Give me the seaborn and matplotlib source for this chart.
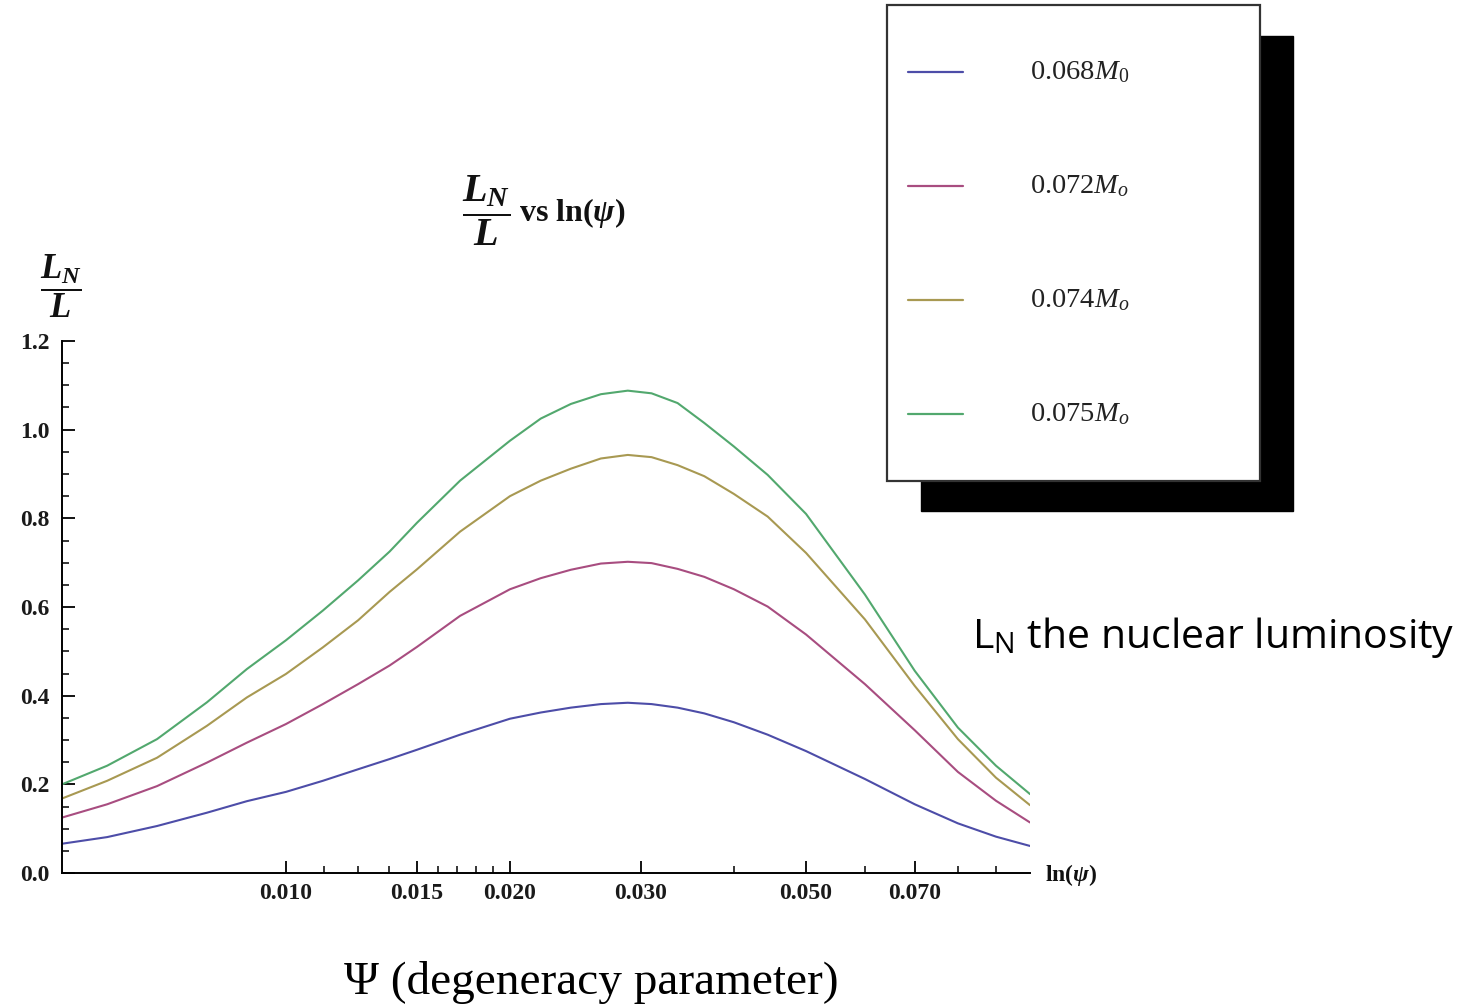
import numpy as np
import pandas as pd
import matplotlib
matplotlib.use("Agg")
import matplotlib.pyplot as plt
import seaborn as sns
from matplotlib.patches import Rectangle
from matplotlib.lines import Line2D
from matplotlib.ticker import FixedLocator, FixedFormatter, NullFormatter, MultipleLocator

# ---------------- data ----------------
psi = [0.005, 0.00575, 0.00671, 0.00783, 0.00886, 0.010, 0.01121, 0.0125,
       0.01378, 0.015, 0.01714, 0.020, 0.022, 0.02415, 0.0265, 0.0288,
       0.031, 0.0336, 0.0365, 0.040, 0.0444, 0.050, 0.060, 0.070, 0.080,
       0.090, 0.100]
lum_068 = [0.066, 0.081, 0.106, 0.136, 0.162, 0.183, 0.208, 0.234,
           0.257, 0.278, 0.312, 0.348, 0.362, 0.373, 0.381, 0.384,
           0.381, 0.373, 0.360, 0.340, 0.312, 0.275, 0.212, 0.155, 0.112,
           0.082, 0.061]
lum_072 = [0.125, 0.155, 0.196, 0.249, 0.294, 0.336, 0.381, 0.426,
           0.468, 0.510, 0.580, 0.640, 0.665, 0.684, 0.698, 0.702,
           0.699, 0.686, 0.668, 0.640, 0.601, 0.538, 0.426, 0.322, 0.228,
           0.163, 0.114]
lum_074 = [0.168, 0.208, 0.260, 0.332, 0.396, 0.449, 0.509, 0.570,
           0.634, 0.685, 0.770, 0.850, 0.885, 0.912, 0.935, 0.943,
           0.938, 0.920, 0.895, 0.855, 0.804, 0.722, 0.572, 0.422, 0.302,
           0.215, 0.153]
lum_075 = [0.200, 0.242, 0.302, 0.385, 0.460, 0.525, 0.592, 0.660,
           0.725, 0.790, 0.885, 0.975, 1.025, 1.058, 1.080, 1.088,
           1.082, 1.060, 1.015, 0.962, 0.898, 0.810, 0.628, 0.456, 0.328,
           0.242, 0.178]
masses = ["0.068", "0.072", "0.074", "0.075"]
legend_labels = [r"0.068$\mathsf{M}_{\mathtt{0}}$", r"0.072$\mathsf{M}_{\mathsf{o}}$",
                 r"0.074$\mathsf{M}_{\mathsf{o}}$", r"0.075$\mathsf{M}_{\mathsf{o}}$"]
x_major = [0.010, 0.015, 0.020, 0.030, 0.050, 0.070]
x_major_labels = ["0.010", "0.015", "0.020", "0.030", "0.050", "0.070"]
x_minor = [0.01125, 0.0125, 0.01375, 0.016, 0.017, 0.018, 0.019, 0.040, 0.060, 0.080, 0.090]
y_major = [0.0, 0.2, 0.4, 0.6, 0.8, 1.0, 1.2]
y_major_labels = ["0.0", "0.2", "0.4", "0.6", "0.8", "1.0", "1.2"]

colors = [(0.30, 0.30, 0.66), (0.66, 0.30, 0.50), (0.66, 0.60, 0.32), (0.32, 0.66, 0.43)]

df = pd.concat([
    pd.DataFrame({"psi": psi, "ratio": vals, "mass": m})
    for m, vals in zip(masses, [lum_068, lum_072, lum_074, lum_075])
])

# ---------------- style ----------------
sns.set_theme(style="white")
plt.rcParams["font.family"] = ["Liberation Serif", "DejaVu Serif"]
plt.rcParams["mathtext.fontset"] = "custom"
plt.rcParams["mathtext.rm"] = "Liberation Serif:bold"
plt.rcParams["mathtext.it"] = "Liberation Serif:italic:bold"
plt.rcParams["mathtext.bf"] = "Liberation Serif:bold"
plt.rcParams["mathtext.sf"] = "Liberation Serif:italic"
plt.rcParams["mathtext.tt"] = "Liberation Serif"

W, H = 1476, 1008
fig = plt.figure(figsize=(W / 100, H / 100), dpi=100)
fig.patch.set_facecolor("white")

def fx(px):
    return px / W

def fy(py):
    return 1 - py / H

ax = fig.add_axes([fx(62), fy(873), fx(1030) - fx(62), fy(341) - fy(873)])
ax.set_facecolor("white")

sns.lineplot(data=df, x="psi", y="ratio", hue="mass", palette=colors,
             linewidth=1.5, legend=False, ax=ax, sort=True)

ax.set_xscale("log")
ax.set_xlim(0.005, 0.1)
ax.set_ylim(0, 1.2)
ax.set_xlabel("")
ax.set_ylabel("")

ax.xaxis.set_major_locator(FixedLocator(x_major))
ax.xaxis.set_major_formatter(FixedFormatter(x_major_labels))
ax.xaxis.set_minor_locator(FixedLocator(x_minor))
ax.xaxis.set_minor_formatter(NullFormatter())
ax.yaxis.set_major_locator(FixedLocator(y_major))
ax.yaxis.set_major_formatter(FixedFormatter(y_major_labels))
ax.yaxis.set_minor_locator(MultipleLocator(0.05))

for s in ["top", "right"]:
    ax.spines[s].set_visible(False)
for s in ["left", "bottom"]:
    ax.spines[s].set_color("black")
    ax.spines[s].set_linewidth(1.4)

ax.tick_params(axis="both", which="major", direction="in", length=9, width=1.3,
               color="black", labelsize=17, bottom=True, left=True)
ax.tick_params(axis="both", which="minor", direction="in", length=5, width=1.1,
               color="black", bottom=True, left=True)
ax.tick_params(axis="x", which="major", pad=7)
ax.tick_params(axis="y", which="major", pad=9)
for lab in ax.get_xticklabels() + ax.get_yticklabels():
    lab.set_fontweight("bold")
    lab.set_color("#1a1a1a")

# ---------------- texts ----------------
fig.text(fx(486), fy(211), r"$\dfrac{L_N}{L}$", ha="center", va="center",
         fontsize=29, fontweight="bold", color="#111111")
fig.text(fx(519), fy(213), r"vs ln($\psi$)", ha="left", va="center",
         fontsize=23, fontweight="bold", color="#111111")
fig.text(fx(61), fy(286), r"$\dfrac{L_N}{L}$", ha="center", va="center",
         fontsize=25, fontweight="bold", color="#111111")
fig.text(fx(1045), fy(875), r"ln($\psi$)", ha="left", va="center",
         fontsize=17, fontweight="bold", color="#111111")
fig.text(fx(972), fy(637), r"L$_\mathregular{N}$ the nuclear luminosity", ha="left",
         va="center", fontsize=29.5, family=["Open Sans", "DejaVu Sans"], color="black")
fig.text(fx(591), fy(983), "\u03a8 (degeneracy parameter)", ha="center", va="center",
         fontsize=34, family=["Liberation Serif", "DejaVu Serif"], color="black")

# ---------------- legend (box with black drop shadow) ----------------
fig.patches.append(Rectangle((fx(921), fy(511)), fx(1293) - fx(921), fy(36) - fy(511),
                             transform=fig.transFigure, facecolor="black",
                             edgecolor="black", zorder=1))
fig.patches.append(Rectangle((fx(887), fy(481)), fx(1260) - fx(887), fy(5) - fy(481),
                             transform=fig.transFigure, facecolor="white",
                             edgecolor="#333333", linewidth=1.6, zorder=2))
for i, (c, lab) in enumerate(zip(colors, legend_labels)):
    yy = 72 + i * 114
    fig.add_artist(Line2D([fx(908), fx(963)], [fy(yy), fy(yy)], color=c,
                          linewidth=1.6, transform=fig.transFigure, zorder=3))
    fig.text(fx(1030), fy(yy), lab, ha="left", va="center", fontsize=20.5,
             color="#222222", zorder=3)

fig.savefig("out.png", dpi=100, facecolor="white")
